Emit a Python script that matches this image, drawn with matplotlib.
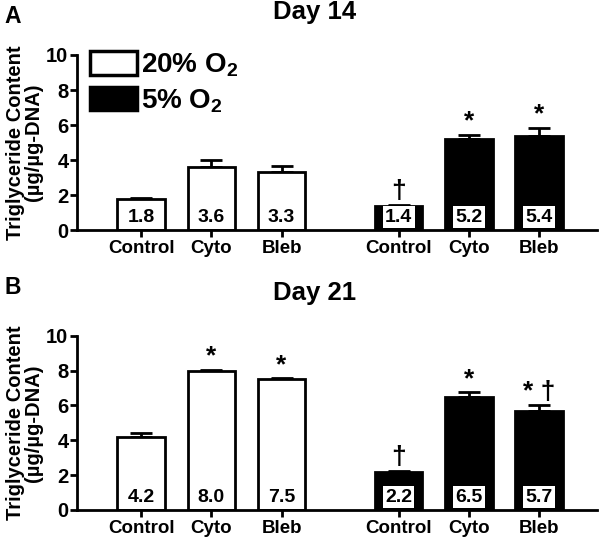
import numpy as np
import matplotlib.pyplot as plt
from matplotlib.patches import Patch

plt.rcParams["font.family"] = ["Liberation Sans", "DejaVu Sans"]
plt.rcParams["font.weight"] = "bold"
plt.rcParams["mathtext.fontset"] = "custom"
plt.rcParams["mathtext.rm"] = "Liberation Sans:bold"
plt.rcParams["mathtext.it"] = "Liberation Sans:bold"
plt.rcParams["mathtext.bf"] = "Liberation Sans:bold"

treatments = ["Control", "Cyto", "Bleb"]

day14_20 = [1.8, 3.6, 3.3]
day14_20_err = [0.05, 0.4, 0.35]
day14_5 = [1.4, 5.2, 5.4]
day14_5_err = [0.05, 0.25, 0.45]
day14_20_sig = ["", "", ""]
day14_5_sig = ["†", "*", "*"]

day21_20 = [4.2, 8.0, 7.5]
day21_20_err = [0.2, 0.05, 0.05]
day21_5 = [2.2, 6.5, 5.7]
day21_5_err = [0.05, 0.25, 0.3]
day21_20_sig = ["", "*", "*"]
day21_5_sig = ["†", "*", "* †"]

pos_20 = np.array([0, 1, 2])
pos_5 = np.array([3.67, 4.67, 5.67])
width = 0.68


def draw_panel(ax, v20, e20, s20, v5, e5, s5):
    for pos, vals, errs, sigs, fc in [(pos_20, v20, e20, s20, "white"), (pos_5, v5, e5, s5, "black")]:
        ax.bar(pos, vals, width=width, color=fc, edgecolor="black", linewidth=2, zorder=2)
        ax.errorbar(
            pos,
            vals,
            yerr=[np.zeros(len(vals)), errs],
            fmt="none",
            ecolor="black",
            elinewidth=2,
            capsize=8,
            capthick=2,
            zorder=1,
        )
        for x, v, e, s in zip(pos, vals, errs, sigs):
            ax.text(
                x,
                0.25,
                f"{v:.1f}",
                ha="center",
                va="bottom",
                fontsize=14,
                fontweight="bold",
                bbox=dict(boxstyle="square,pad=0.12", facecolor="white", edgecolor="none"),
                zorder=3,
            )
            if s:
                ax.annotate(
                    s,
                    (x, v + e),
                    xytext=(0, 1),
                    textcoords="offset points",
                    ha="center",
                    va="bottom",
                    fontsize=19,
                    fontweight="bold",
                )
    ax.set_xlim(-0.92, 6.5)
    ax.set_ylim(0, 10)
    ax.set_yticks([0, 2, 4, 6, 8, 10])
    ax.set_xticks(list(pos_20) + list(pos_5))
    ax.set_xticklabels(treatments * 2)
    ax.spines["top"].set_visible(False)
    ax.spines["right"].set_visible(False)
    ax.spines["left"].set_linewidth(2)
    ax.spines["bottom"].set_linewidth(2)
    ax.tick_params(axis="both", width=2, length=5, labelsize=13.5, pad=2)
    ax.tick_params(axis="y", labelsize=14.5, pad=1)
    ax.set_ylabel("Triglyceride Content\n(µg/µg-DNA)", fontsize=14.5, fontweight="bold", labelpad=2, linespacing=0.95)


fig = plt.figure(figsize=(6.0, 5.39), dpi=100)
ax1 = fig.add_axes([0.128, 0.573, 0.867, 0.325])
ax2 = fig.add_axes([0.128, 0.054, 0.867, 0.323])

draw_panel(ax1, day14_20, day14_20_err, day14_20_sig, day14_5, day14_5_err, day14_5_sig)
draw_panel(ax2, day21_20, day21_20_err, day21_20_sig, day21_5, day21_5_err, day21_5_sig)

handles = [
    Patch(facecolor="white", edgecolor="black", linewidth=2.5),
    Patch(facecolor="black", edgecolor="black", linewidth=2.5),
]
ax1.legend(
    handles,
    ["20% O$_2$", "5% O$_2$"],
    loc="upper left",
    bbox_to_anchor=(0.025, 1.02),
    frameon=False,
    fontsize=20,
    handlelength=1.7,
    handleheight=0.9,
    handletextpad=0.15,
    labelspacing=0.3,
    borderpad=0,
    borderaxespad=0,
)

fig.text(0.525, 0.964, "Day 14", ha="center", va="baseline", fontsize=18.5, fontweight="bold")
fig.text(0.525, 0.443, "Day 21", ha="center", va="baseline", fontsize=18.5, fontweight="bold")
fig.text(0.008, 0.99, "A", fontsize=16.5, fontweight="bold", va="top")
fig.text(0.008, 0.488, "B", fontsize=16.5, fontweight="bold", va="top")

fig.savefig("out.png", dpi=100)
